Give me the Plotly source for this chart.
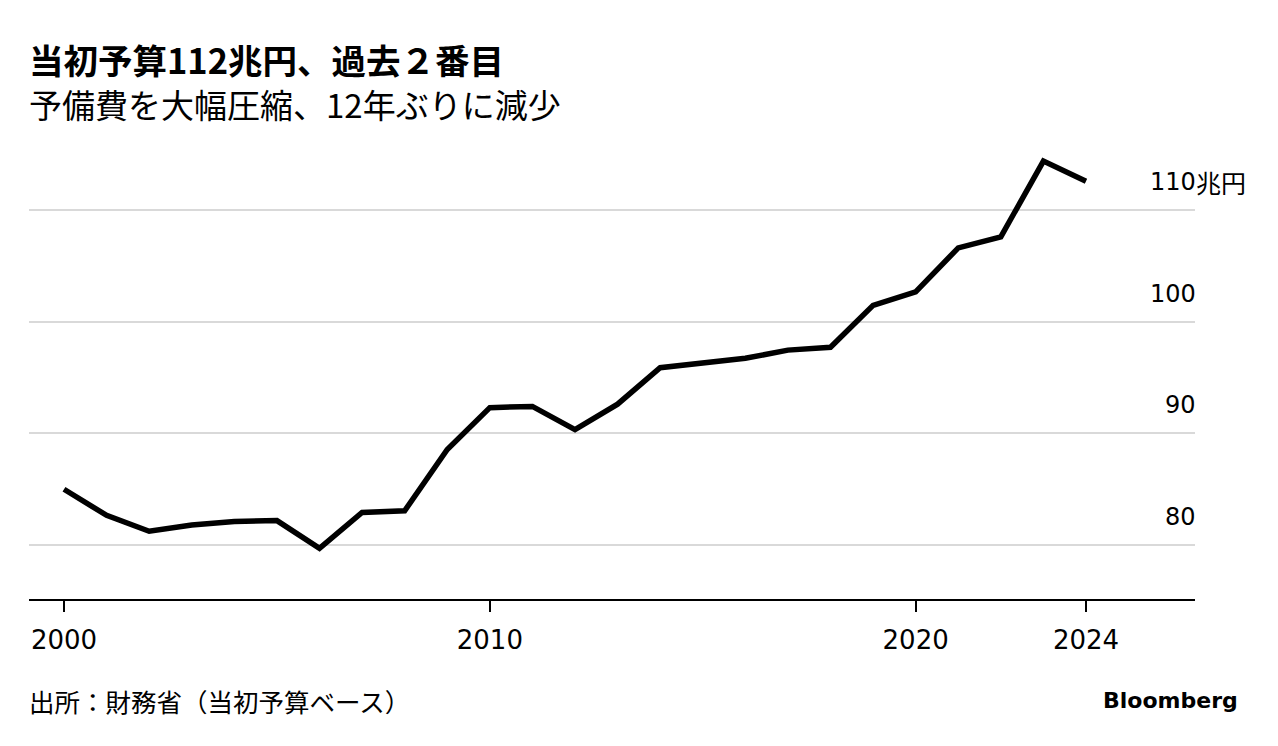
import plotly.graph_objects as go

years = list(range(2000, 2025))
budget = [84.99, 82.65, 81.23, 81.79, 82.11, 82.18, 79.69, 82.91, 83.06, 88.55,
          92.30, 92.41, 90.33, 92.61, 95.88, 96.34, 96.72, 97.45, 97.71, 101.46,
          102.66, 106.61, 107.60, 114.38, 112.57]
x_ticks = [2000, 2010, 2020, 2024]
y_ticks = [80, 90, 100, 110]
y_labels = ["80", "90", "100", "110"]
y_unit = "兆円"

CJK = "'Noto Sans CJK JP', sans-serif"
NUM = "'DejaVu Sans', sans-serif"

fig = go.Figure()
fig.add_trace(go.Scatter(x=years, y=budget, mode="lines",
                         line=dict(color="black", width=5.5), hoverinfo="skip"))

ann = []
for v, lab in zip(y_ticks, y_labels):
    ann.append(dict(xref="paper", yref="y", x=1, y=v, xshift=3, yshift=28,
                    text=lab, showarrow=False, xanchor="right", yanchor="middle",
                    font=dict(size=24, color="#000", family=NUM)))
ann.append(dict(xref="paper", yref="y", x=1, y=y_ticks[-1], xshift=-1, yshift=28,
                text=y_unit, showarrow=False, xanchor="left", yanchor="middle",
                font=dict(size=25, color="#000", family=CJK)))
ann += [
    dict(xref="paper", yref="paper", x=0, xshift=-2, y=1, yshift=81,
         text="<b>当初予算112兆円、過去２番目</b>", showarrow=False,
         xanchor="left", yanchor="middle",
         font=dict(size=34.5, color="#000", family=CJK)),
    dict(xref="paper", yref="paper", x=0, xshift=-2, y=1, yshift=36,
         text="予備費を大幅圧縮、12年ぶりに減少", showarrow=False,
         xanchor="left", yanchor="middle",
         font=dict(size=33, color="#000", family=CJK)),
    dict(xref="paper", yref="paper", x=0, xshift=-2, y=0, yshift=-101,
         text="出所：財務省（当初予算ベース）", showarrow=False,
         xanchor="left", yanchor="middle",
         font=dict(size=25.5, color="#000", family=CJK)),
    dict(xref="paper", yref="paper", x=1, xshift=45, y=0, yshift=-101,
         text="<b>Bloomberg</b>", showarrow=False,
         xanchor="right", yanchor="middle",
         font=dict(size=22, color="#000", family=NUM)),
]

fig.update_layout(
    width=1270, height=738,
    margin=dict(l=21, r=83, t=132, b=147),
    plot_bgcolor="white", paper_bgcolor="white",
    showlegend=False,
    annotations=ann,
    xaxis=dict(range=[1999.178, 2026.56], tickvals=x_ticks,
               ticktext=[str(t) for t in x_ticks],
               showgrid=False, zeroline=False, showline=True, linecolor="#000",
               linewidth=2, ticks="outside", ticklen=11, tickwidth=1.5,
               tickcolor="#000", ticklabelstandoff=6,
               tickfont=dict(size=26, color="#000", family=NUM),
               fixedrange=True),
    yaxis=dict(range=[75.16, 116.27], tickvals=y_ticks, showgrid=True,
               gridcolor="#d9d9d9", gridwidth=1.5, zeroline=False,
               showticklabels=False, fixedrange=True),
)

fig.write_html("out.html")
